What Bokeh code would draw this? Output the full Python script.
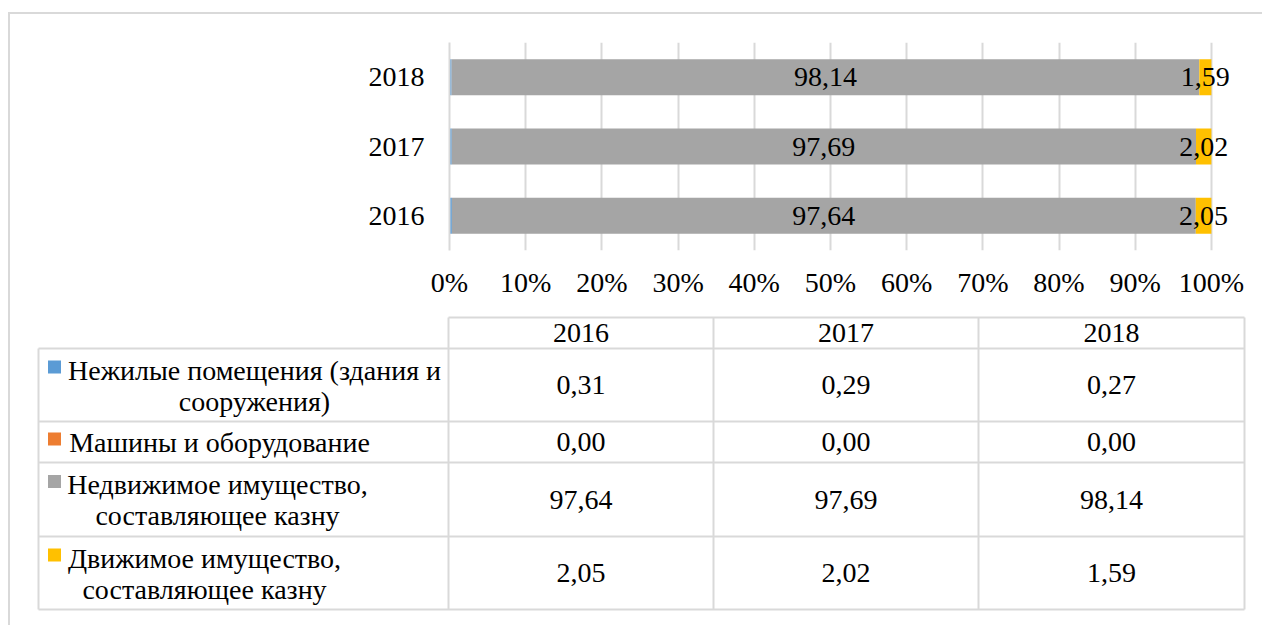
from bokeh.plotting import figure
from bokeh.models import FactorRange, Range1d, FixedTicker, PrintfTickFormatter, ColumnDataSource
from bokeh.layouts import column
from bokeh.embed import file_html
from bokeh.resources import INLINE
from bokeh.core.properties import value

# ---------------- data ----------------
years = ["2016", "2017", "2018"]
series_keys = ["nonres", "machines", "realty", "movable"]
legend_lines = [
    ["Нежилые помещения (здания и", "сооружения)"],
    ["Машины и оборудование"],
    ["Недвижимое имущество,", "составляющее казну"],
    ["Движимое имущество,", "составляющее казну"],
]
nonres = [0.31, 0.29, 0.27]
machines = [0.00, 0.00, 0.00]
realty = [97.64, 97.69, 98.14]
movable = [2.05, 2.02, 1.59]
colors = ["#5B9BD5", "#ED7D31", "#A5A5A5", "#FFC000"]
x_ticks = [0, 10, 20, 30, 40, 50, 60, 70, 80, 90, 100]

FONT = "Liberation Serif"
FS = "28px"
GRID = "#D9D9D9"


def fmt(v):
    return f"{v:.2f}".replace(".", ",")


W = 1252

# ---------------- chart ----------------
src = ColumnDataSource(dict(year=years, nonres=nonres, machines=machines,
                            realty=realty, movable=movable))

p1 = figure(width=W, height=299, y_range=FactorRange(*years), x_range=Range1d(0, 105),
            output_backend="svg", toolbar_location=None,
            min_border_left=439, min_border_right=13, min_border_top=28, min_border_bottom=63)
p1.hbar_stack(series_keys, y="year", height=0.52, color=colors, source=src, line_width=0)

lab_x, lab_y, lab_t = [], [], []
for i, y in enumerate(years):
    base = nonres[i] + machines[i]
    lab_x.append(base + realty[i] / 2)
    lab_y.append(y)
    lab_t.append(fmt(realty[i]))
    lab_x.append(100 - movable[i] / 2)
    lab_y.append(y)
    lab_t.append(fmt(movable[i]))
p1.text(x=lab_x, y=lab_y, text=lab_t, text_align="center", text_baseline="middle",
        text_font=value(FONT), text_font_size=FS, text_color="#000000")

p1.xaxis.ticker = FixedTicker(ticks=x_ticks)
p1.xaxis.formatter = PrintfTickFormatter(format="%d%%")
p1.xaxis.axis_line_color = None
p1.xaxis.major_tick_line_color = None
p1.xaxis.minor_tick_line_color = None
p1.xaxis.major_label_standoff = 10
p1.yaxis.axis_line_color = GRID
p1.yaxis.axis_line_width = 2
p1.yaxis.major_tick_line_color = None
p1.yaxis.minor_tick_line_color = None
p1.yaxis.major_label_standoff = 19
for ax in (p1.xaxis[0], p1.yaxis[0]):
    ax.major_label_text_font = FONT
    ax.major_label_text_font_size = FS
    ax.major_label_text_color = "#000000"
p1.xgrid.ticker = FixedTicker(ticks=x_ticks)
p1.xgrid.grid_line_color = GRID
p1.xgrid.grid_line_width = 2
p1.ygrid.grid_line_color = None
p1.outline_line_color = None

# ---------------- data table ----------------
p2 = figure(width=W, height=312, x_range=Range1d(10, 10 + W), y_range=Range1d(625, 313),
            output_backend="svg", toolbar_location=None,
            x_axis_location=None, y_axis_location=None,
            min_border_left=0, min_border_right=0, min_border_top=0, min_border_bottom=0)
p2.grid.grid_line_color = None
p2.outline_line_color = None

row_b = [317, 348, 421, 462, 536, 609]
col_b = [38, 448, 713, 978, 1244]

x0s, y0s, x1s, y1s = [], [], [], []
x0s.append(col_b[1]); x1s.append(col_b[-1]); y0s.append(row_b[0]); y1s.append(row_b[0])
for yb in row_b[1:]:
    x0s.append(col_b[0]); x1s.append(col_b[-1]); y0s.append(yb); y1s.append(yb)
x0s.append(col_b[0]); x1s.append(col_b[0]); y0s.append(row_b[1]); y1s.append(row_b[-1])
for xb in col_b[1:]:
    x0s.append(xb); x1s.append(xb); y0s.append(row_b[0]); y1s.append(row_b[-1])
p2.segment(x0=x0s, y0=y0s, x1=x1s, y1=y1s, line_color=GRID, line_width=2)

col_c = [(col_b[j] + col_b[j + 1]) / 2 for j in range(1, len(col_b) - 1)]
p2.text(x=col_c, y=[(row_b[0] + row_b[1]) / 2] * len(years), text=years,
        text_align="center", text_baseline="middle",
        text_font=value(FONT), text_font_size=FS, text_color="#000000")

table_vals = [nonres, machines, realty, movable]
vx, vy, vt = [], [], []
for r, vals in enumerate(table_vals):
    cy = (row_b[r + 1] + row_b[r + 2]) / 2
    for j, v in enumerate(vals):
        vx.append(col_c[j]); vy.append(cy); vt.append(fmt(v))
p2.text(x=vx, y=vy, text=vt, text_align="center", text_baseline="middle",
        text_font=value(FONT), text_font_size=FS, text_color="#000000")

label_centers = [254, 219, 217, 204]
lx, ly, lt = [], [], []
sq_y = []
for r, lines in enumerate(legend_lines):
    cy = (row_b[r + 1] + row_b[r + 2]) / 2
    ys = [cy] if len(lines) == 1 else [cy - 15, cy + 16]
    for t, yy in zip(lines, ys):
        lx.append(label_centers[r]); ly.append(yy); lt.append(t)
    sq_y.append(ys[0] - 3)
p2.text(x=lx, y=ly, text=lt, text_align="center", text_baseline="middle",
        text_font=value(FONT), text_font_size=FS, text_color="#000000")
p2.rect(x=[54] * 4, y=sq_y, width=13, height=13, fill_color=colors, line_color=None)

# outer chart-area border (top and left edges) via container styles
root1 = column(p1, margin=(12, 0, 0, 8),
               styles={"border-top": "2px solid #D9D9D9", "border-left": "2px solid #D9D9D9"})
root2 = column(p2, margin=(0, 0, 0, 8),
               styles={"border-left": "2px solid #D9D9D9"})

open("out.html", "w").write(file_html((root1, root2), INLINE))
